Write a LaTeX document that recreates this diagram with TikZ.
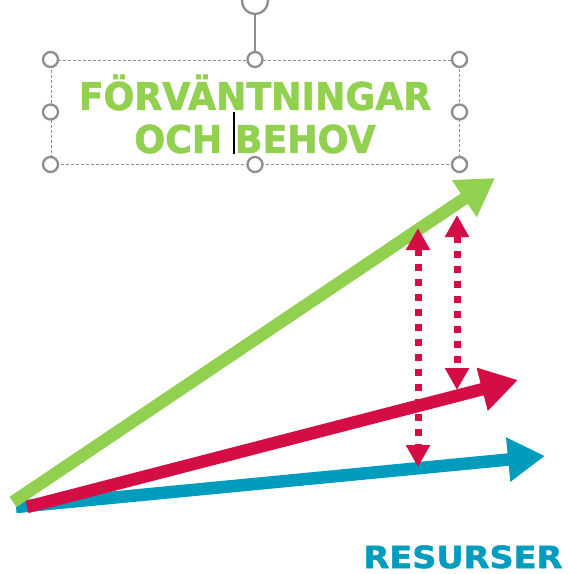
\documentclass[tikz,border=0pt]{standalone}
\usepackage{fontspec}
\setmainfont{DejaVu Sans}
\newfontfamily\heavyfont{DejaVu Sans Bold}[FakeBold=1.6]
\usetikzlibrary{arrows.meta}
\definecolor{lgreen}{HTML}{92D050}
\definecolor{crim}{HTML}{D40E45}
\definecolor{teal2}{HTML}{009CBD}
\definecolor{hgray}{HTML}{8E8E8E}
\tikzset{
  bigarrow/.style={line width=12.5pt, -{Triangle[length=37pt,width=42pt]}},
  dotarrow/.style={crim, line width=7pt, dash pattern=on 7pt off 8pt,
    {Triangle[length=22pt,width=23pt]}-{Triangle[length=22pt,width=23pt]}},
  handle/.style={circle, draw=hgray, line width=2.3pt, fill=white, minimum size=15pt, inner sep=0pt},
  selbox/.style={draw=hgray, line width=1pt, dash pattern=on 3pt off 2pt, minimum width=408pt, minimum height=104pt, inner sep=0pt}
}
\begin{document}
\begin{tikzpicture}[x=1pt,y=-1pt]
\useasboundingbox[fill=white] (0,0) rectangle (568,574);
% selection box
\node[selbox] (box) at (255,112) {};
\coordinate (rot) at (255,1);
\draw[hgray, line width=1.8pt] (box.north) -- (255,15);
\draw[hgray, line width=2.3pt] (rot) circle (13pt);
\foreach \a [count=\i] in {north west,north,north east,east,south east,south,south west,west}
  \node[handle] (h\i) at (box.\a) {};
% title text
\node[text=lgreen, font=\heavyfont\fontsize{38}{43}\selectfont, align=center, inner sep=0pt, xscale=0.955] (title) at (255,114) {FÖRVÄNTNINGAR\\OCH BEHOV};
\draw[black, line width=1.5pt] (234,112) -- (234,154);
% arrows
\coordinate (gs) at (13,502);
\coordinate (ge) at (495,178);
\coordinate (rs) at (27,507);
\coordinate (re) at (518,380);
\coordinate (ts) at (16,507);
\coordinate (te) at (545,456);
\draw[bigarrow, teal2] (ts) -- (te);
\draw[bigarrow, lgreen] (gs) -- (ge);
\draw[bigarrow, crim] (rs) -- (re);
% dotted double arrows
\coordinate (d1t) at (418,228);
\coordinate (d1b) at (418,467);
\coordinate (d2t) at (457,215);
\coordinate (d2b) at (457,390);
\draw[dotarrow] (d1t) -- (d1b);
\draw[dotarrow] (d2t) -- (d2b);
% label
\node[text=teal2, font=\heavyfont\fontsize{30.5}{36}\selectfont, anchor=base, inner sep=0pt, xscale=1.1] (res) at (463,568) {RESURSER};
\end{tikzpicture}
\end{document}
